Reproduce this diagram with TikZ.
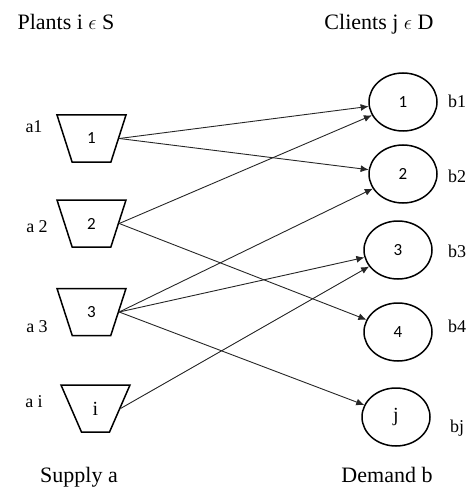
\documentclass[tikz,border=0pt]{standalone}
\usepackage{fontspec}
\setmainfont{Liberation Serif}
\newfontfamily\digitfont{Carlito}
\usepackage{tikz}
\usetikzlibrary{shapes.geometric, arrows.meta, positioning}

\begin{document}
\begin{tikzpicture}[x=1pt,y=-1pt,->,>={Latex[length=8pt,width=7pt]},semithick]
	\tikzset{
		plant/.style={draw, trapezium, shape border rotate=180, trapezium left angle=73, trapezium right angle=73, trapezium stretches=true, minimum width=69pt, minimum height=47pt, inner sep=0pt, line width=1.5pt, font=\digitfont\fontsize{17}{19}\selectfont},
		client/.style={draw, ellipse, minimum width=68pt, minimum height=58pt, inner sep=0pt, line width=1.5pt, font=\digitfont\fontsize{17}{19}\selectfont},
		title/.style={anchor=base, font=\fontsize{22}{26}\selectfont},
		amount/.style={font=\fontsize{18}{22}\selectfont},
		flow/.style={line width=0.9pt, black!85}
	}
	\useasboundingbox (0,0) rectangle (468,489);
	% plants
	\node[plant] (p1) at (91.5,138.5) {1};
	\node[plant] (p2) [below of=p1, node distance=85pt] {2};
	\node[plant] (p3) [below of=p2, node distance=88.5pt] {3};
	\node[plant] (pi) [below of=p3, node distance=96.5pt, xshift=4pt] {\rmfamily\fontsize{20}{22}\selectfont i};
	% clients
	\node[client] (c1) at (403,102) {1};
	\node[client] (c2) [below of=c1, node distance=72pt] {2};
	\node[client] (c3) [below of=c2, node distance=76pt, xshift=-5pt] {3};
	\node[client] (c4) [below of=c3, node distance=82pt] {4};
	\node[client] (cj) [below of=c4, node distance=85pt, xshift=-2pt] {\rmfamily\fontsize{20}{22}\selectfont j};
	% supplies and demands
	\node[amount] (a1) at (34,127) {a1};
	\node[amount] (a2) at (37,227) {a 2};
	\node[amount] (a3) at (37,327) {a 3};
	\node[amount] (ai) at (34,402) {a i};
	\node[amount] (b1) at (457,101) {b1};
	\node[amount] (b2) at (457,176) {b2};
	\node[amount] (b3) at (457,251) {b3};
	\node[amount] (b4) at (457,326) {b4};
	\node[amount] (bj) at (457,428) {bj};
	% titles
	\node[title] (plants) at (66,30) {Plants i \ensuremath{\epsilon} S};
	\node[title] (clients) at (379,30) {Clients j \ensuremath{\epsilon} D};
	\node[title] (supply) at (79,482) {Supply a};
	\node[title] (demand) at (387,482) {Demand b};
	\path[flow]
		(p1.east)
			edge (c1)
			edge (c2)
		(p2.east)
			edge (c1)
			edge (c4)
		(p3.east)
			edge (c2)
			edge (c3)
			edge (cj)
		(pi.east)
			edge (c3);
\end{tikzpicture}
\end{document}
